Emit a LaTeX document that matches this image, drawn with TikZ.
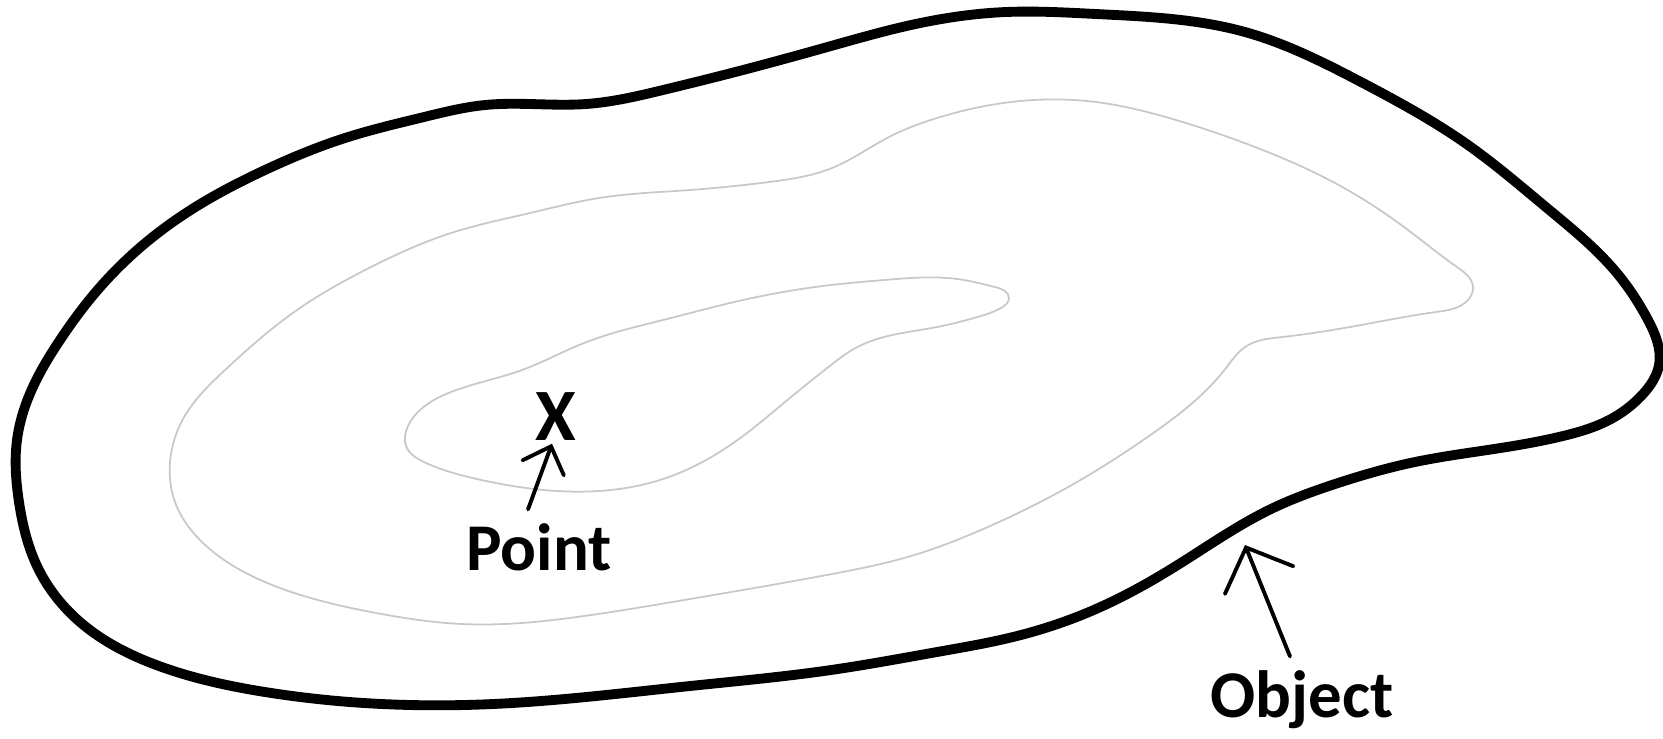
\documentclass[tikz,border=0pt]{standalone}
\usepackage{fontspec}
\setmainfont{Carlito}
\usetikzlibrary{arrows.meta,hobby}
\begin{document}
\begin{tikzpicture}[x=0.01cm,y=-0.01cm,
  outline/.style={line width=2.8pt,line join=round},
  contour/.style={line width=0.5pt,color={rgb,255:red,200;green,200;blue,200}},
  lbl/.style={font=\bfseries\fontsize{19pt}{22pt}\selectfont,inner sep=0pt,anchor=base},
  xlbl/.style={font=\bfseries\fontsize{21pt}{24pt}\selectfont,inner sep=0pt,anchor=base},
  ptarrow/.style={line width=1.1pt,line cap=round,-{Straight Barb[length=6.5pt,width=12.5pt,line cap=round]}},
  objarrow/.style={line width=1.1pt,line cap=round,-{Straight Barb[length=10pt,width=21pt,line cap=round]}}]
\useasboundingbox (0,0) rectangle (1663,738);
% outer object boundary
\draw[outline] plot[closed hobby] coordinates {
(485,105) (586,104) (663,90) (743,70) (831,46) (911,25) (1006,12) (1096,14)
(1245,32) (1361,82) (1468,145) (1547,208) (1616,272) (1648,320) (1659,365)
(1643,394) (1611,419) (1563,436) (1494,449) (1415,462) (1335,484) (1271,509)
(1176,566) (1096,609) (1017,636) (937,652) (831,670) (690,686)
(493,704) (382,704) (265,692) (159,666) (80,622) (37,566) (19,502) (17,440)
(32,389) (60,340) (95,293) (149,240) (202,203) (265,170) (345,138) (424,117)};
% middle contour
\draw[contour] plot[closed hobby] coordinates {
(832,168) (889,137) (937,118) (1011,102) (1096,102) (1176,120)
(1255,147) (1335,183) (1404,227) (1457,267) (1473,287) (1468,300) (1436,312)
(1361,325) (1282,337) (1245,347) (1226,368) (1149,436) (1070,486)
(990,526) (911,556) (832,574) (690,599) (584,616) (504,624) (462,624)
(371,612) (265,582) (202,542) (175,502) (170,462) (183,419) (225,370)
(297,310) (371,267) (451,233) (530,213) (599,198) (690,190) (769,182)};
% inner contour
\draw[contour] plot[closed hobby] coordinates {
(831,285) (884,280) (964,280) (995,287) (1009,298) (1001,308) (974,318)
(937,327) (884,337) (852,350) (831,365) (785,402) (743,436) (663,479)
(599,491) (557,491) (477,479) (424,462) (406,446) (408,426) (451,392)
(522,370) (584,343) (663,320) (743,300)};
% labels
\node[xlbl] (xmark) at (556,440) {X};
\node[lbl] (ptlabel) at (539,570) {Point};
\node[lbl] (objlabel) at (1302,717) {Object};
\coordinate (objtip) at (1245,545);
% arrows
\draw[ptarrow] ([shift={(-11,-13)}]ptlabel.north) -- ([shift={(-4,3)}]xmark.south);
\draw[objarrow] ([shift={(-12,-13)}]objlabel.north) -- (objtip);
\end{tikzpicture}
\end{document}
